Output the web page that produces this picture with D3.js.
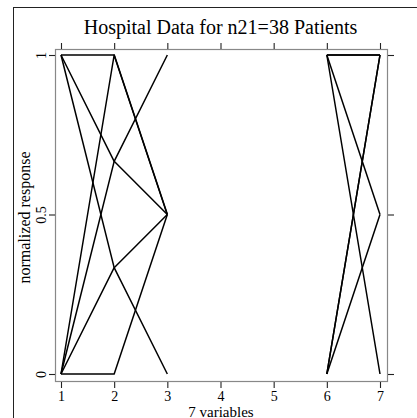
<!DOCTYPE html>
<html>
<head>
<meta charset="utf-8">
<script src="https://d3js.org/d3.v7.min.js"></script>
<style>
	body { margin: 0; background: #fff; }
	svg, svg text { font-family: "Liberation Serif", "DejaVu Serif", "Times New Roman", serif; }
</style>
</head>
<body>
<div id="chart"></div>
<script>
// parallel coordinates, one polyline per patient group; null = missing
var variables = [1, 2, 3, 4, 5, 6, 7];
var patientA = [1, 1, 0.5, null, null, 1, 1];
var patientB = [0, 1, 0.5, null, null, 1, 0.5];
var patientC = [0, 2/3, 1, null, null, 1, 0];
var patientD = [1, 2/3, 0.5, null, null, 0, 1];
var patientE = [1, 1/3, 0, null, null, 0, 0.5];
var patientF = [0, 1/3, 0.5, null, null, 1, 1];
var patientG = [0, 0, 0.5, null, null, 0, 1];
var yTicks = [0, 0.5, 1];
var yTickLabels = ["0", "0.5", "1"];

var patients = [patientA, patientB, patientC, patientD, patientE, patientF, patientG];

var width = 417,
	height = 418,
	serif = "'Liberation Serif', 'DejaVu Serif', 'Times New Roman', serif",
	box = {left: 55, right: 387, top: 49, bottom: 381};

var svg = d3.select("#chart").append("svg")
	.attr("width", width)
	.attr("height", height);

// window frame (only top and left edges show)
svg.append("rect")
	.attr("x", 13.5).attr("y", 7.5)
	.attr("width", 500).attr("height", 500)
	.attr("fill", "none")
	.attr("stroke", "#222")
	.attr("stroke-width", 1);

var x = d3.scaleLinear().domain([1, 7]).range([61, 380]);
var y = d3.scaleLinear().domain([0, 1]).range([374, 55]);

// plot region
svg.append("rect")
	.attr("x", box.left + 0.5).attr("y", box.top + 0.5)
	.attr("width", box.right - box.left).attr("height", box.bottom - box.top)
	.attr("fill", "none")
	.attr("stroke", "#888")
	.attr("stroke-width", 1.2);

function styleAxis(g) {
	g.attr("font-family", serif);
	g.select(".domain").remove();
	g.selectAll("line").attr("stroke", "#222").attr("stroke-width", 1.1);
}

svg.append("g")
	.attr("transform", "translate(0," + box.top + ")")
	.call(d3.axisTop(x).tickValues(variables).tickSize(6).tickFormat(""))
	.call(styleAxis);

var bottom = svg.append("g")
	.attr("transform", "translate(0," + (box.bottom + 1) + ")")
	.call(d3.axisBottom(x).tickValues(variables).tickSize(6).tickFormat(d3.format("d")))
	.call(styleAxis);
bottom.selectAll("text")
	.attr("y", 18.5).attr("dy", 0)
	.attr("font-size", 14)
	.attr("fill", "#000");

var left = svg.append("g")
	.attr("transform", "translate(" + box.left + ",0)")
	.call(d3.axisLeft(y).tickValues(yTicks).tickSize(6)
		.tickFormat(function(d, i) { return yTickLabels[i]; }))
	.call(styleAxis);
left.selectAll("text")
	.attr("transform", "rotate(-90)")
	.attr("x", 0).attr("y", -9.5).attr("dy", 0)
	.attr("text-anchor", "middle")
	.attr("font-size", 14)
	.attr("fill", "#000");

svg.append("g")
	.attr("transform", "translate(" + (box.right + 1) + ",0)")
	.call(d3.axisRight(y).tickValues(yTicks).tickSize(6).tickFormat(""))
	.call(styleAxis);

// patient lines, broken where a variable is missing
var line = d3.line()
	.defined(function(d) { return d != null; })
	.x(function(d, i) { return x(variables[i]); })
	.y(function(d) { return y(d); });

svg.append("g").selectAll("path")
	.data(patients)
	.enter().append("path")
	.attr("d", line)
	.attr("fill", "none")
	.attr("stroke", "#000")
	.attr("stroke-width", 1.5)
	.attr("stroke-linejoin", "round");

svg.append("text")
	.attr("x", 220.5).attr("y", 34)
	.attr("text-anchor", "middle")
	.attr("font-family", serif)
	.attr("font-size", 20)
	.text("Hospital Data for n21=38 Patients");

svg.append("text")
	.attr("x", 221).attr("y", 417)
	.attr("text-anchor", "middle")
	.attr("font-family", serif)
	.attr("font-size", 15)
	.text("7 variables");

svg.append("text")
	.attr("transform", "translate(29.5,217.5) rotate(-90)")
	.attr("text-anchor", "middle")
	.attr("font-family", serif)
	.attr("font-size", 16)
	.text("normalized response");
</script>
</body>
</html>
